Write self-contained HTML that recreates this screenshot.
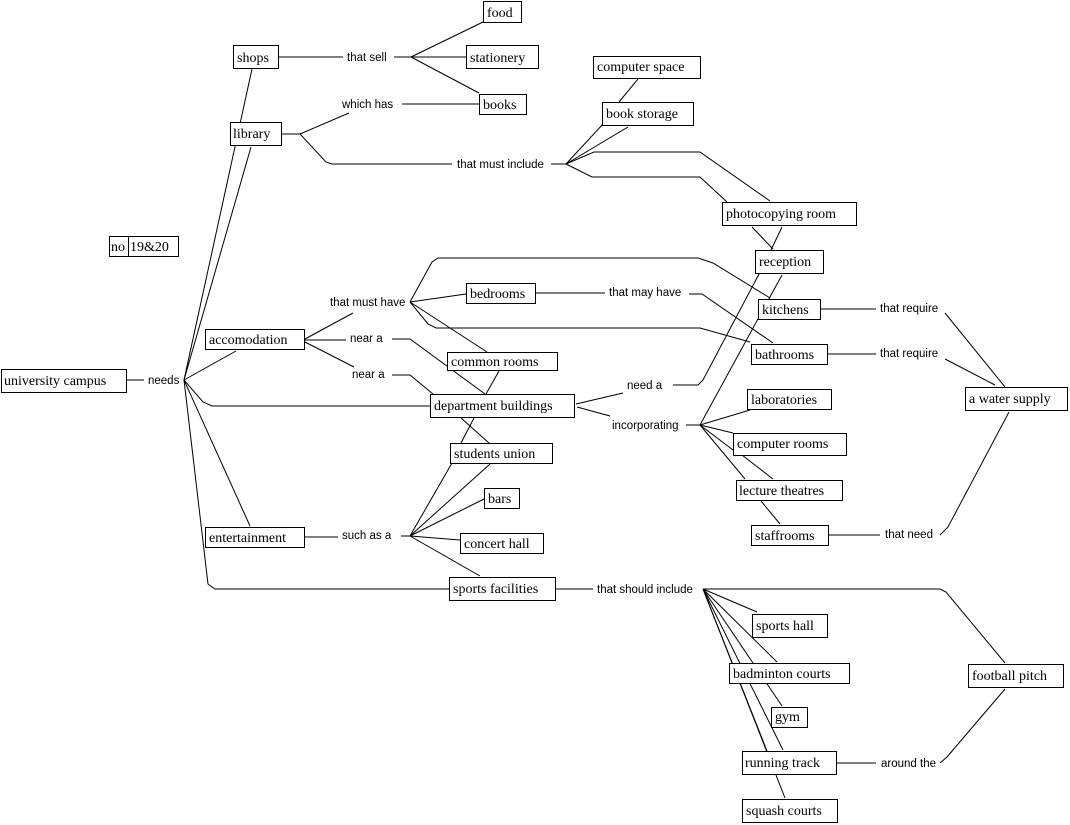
<!DOCTYPE html>
<html><head><meta charset="utf-8"><style>
html,body{margin:0;padding:0;background:#fff;}
svg{display:block;}
.b{fill:#fff;stroke:#000;stroke-width:1;}
.t{font-family:"Liberation Serif",serif;font-size:14px;fill:#000;}
.l{font-family:"Liberation Sans",sans-serif;font-size:11.5px;fill:#000;}
path,line,polyline{fill:none;stroke:#000;stroke-width:1;}
</style></head><body>
<svg width="1070" height="825" viewBox="0 0 1070 825">
<!-- connectors -->
<g>
<line x1="127" y1="380" x2="144" y2="380"/>
<line x1="184" y1="380" x2="252" y2="69"/>
<line x1="184" y1="380" x2="251" y2="147"/>
<line x1="184" y1="380" x2="236" y2="351"/>
<polyline points="184,380 203,402 212,406 430,406"/>
<line x1="184" y1="380" x2="250" y2="526"/>
<polyline points="184,380 208,584 215,589 449,589"/>
<line x1="279" y1="57" x2="343" y2="57"/>
<line x1="394" y1="57" x2="411" y2="57"/>
<line x1="411" y1="57" x2="483" y2="22"/>
<line x1="411" y1="57" x2="466" y2="57"/>
<line x1="411" y1="57" x2="479" y2="93"/>
<line x1="282" y1="134" x2="300" y2="134"/>
<line x1="300" y1="134" x2="349" y2="113"/>
<line x1="402" y1="104" x2="479" y2="104"/>
<polyline points="300,134 326,162 332,164 452,164"/>
<line x1="551" y1="164" x2="566" y2="164"/>
<line x1="566" y1="164" x2="603" y2="124"/>
<line x1="566" y1="164" x2="628" y2="127"/>
<polyline points="566,164 594,152 700,152 770,201"/>
<polyline points="566,164 592,177 700,177 727,202"/>
<line x1="638" y1="79" x2="619" y2="102"/>
<line x1="752" y1="227" x2="773" y2="249"/>
<line x1="782" y1="227" x2="771" y2="250"/>
<polyline points="759,274 703,380 698,385 673,385"/>
<line x1="782" y1="275" x2="700" y2="425"/>
<polyline points="410,302 432,262 438,258 698,258 713,263 770,298"/>
<line x1="410" y1="302" x2="466" y2="294"/>
<line x1="536" y1="293" x2="605" y2="293"/>
<polyline points="689,294 702,294 773,343"/>
<polyline points="410,302 428,324 436,328 700,328 750,342"/>
<line x1="410" y1="302" x2="487" y2="352"/>
<line x1="305" y1="339" x2="353" y2="313"/>
<line x1="305" y1="340" x2="346" y2="340"/>
<line x1="305" y1="342" x2="354" y2="367"/>
<polyline points="392,339 410,339 485,394"/>
<polyline points="392,375 410,375 433,394"/>
<line x1="499" y1="371" x2="486" y2="394"/>
<line x1="474" y1="418" x2="461" y2="443"/>
<line x1="461" y1="418" x2="489" y2="443"/>
<line x1="305" y1="537" x2="338" y2="537"/>
<line x1="401" y1="536" x2="410" y2="536"/>
<line x1="410" y1="536" x2="452" y2="463"/>
<line x1="410" y1="536" x2="490" y2="464"/>
<line x1="410" y1="536" x2="484" y2="499"/>
<line x1="410" y1="536" x2="460" y2="540"/>
<line x1="410" y1="536" x2="480" y2="576"/>
<line x1="576" y1="404" x2="623" y2="393"/>
<line x1="577" y1="407" x2="610" y2="416"/>
<line x1="686" y1="425" x2="700" y2="425"/>
<line x1="700" y1="425" x2="750" y2="410"/>
<line x1="700" y1="425" x2="733" y2="433"/>
<line x1="700" y1="425" x2="733" y2="450"/>
<line x1="700" y1="425" x2="745" y2="479"/>
<line x1="742" y1="455" x2="773" y2="479"/>
<line x1="761" y1="501" x2="780" y2="524"/>
<line x1="829" y1="535" x2="880" y2="535"/>
<polyline points="940,535 948,527 1009,412"/>
<line x1="821" y1="309" x2="876" y2="309"/>
<line x1="945" y1="313" x2="1005" y2="387"/>
<line x1="828" y1="354" x2="876" y2="354"/>
<line x1="945" y1="359" x2="995" y2="385"/>
<line x1="556" y1="589" x2="593" y2="589"/>
<polyline points="703,589 940,589 946,592 1005,663"/>
<line x1="703" y1="589" x2="757" y2="612"/>
<line x1="703" y1="589" x2="777" y2="662"/>
<line x1="703" y1="589" x2="782" y2="706"/>
<line x1="703" y1="589" x2="783" y2="750"/>
<line x1="703" y1="589" x2="767" y2="751"/>
<line x1="703" y1="589" x2="785" y2="798"/>
<line x1="837" y1="763" x2="876" y2="763"/>
<polyline points="940,763 947,757 1005,689"/>
</g>
<!-- boxes -->
<g>
<rect class="b" x="483.5" y="1.5" width="38" height="21"/><text class="t" x="487" y="17">food</text>
<rect class="b" x="233.5" y="45.5" width="45" height="23"/><text class="t" x="237" y="62">shops</text>
<rect class="b" x="466.5" y="45.5" width="72" height="23"/><text class="t" x="470" y="62">stationery</text>
<rect class="b" x="479.5" y="94.5" width="47" height="20"/><text class="t" x="483" y="109">books</text>
<rect class="b" x="230.5" y="122.5" width="51" height="23"/><text class="t" x="233" y="138">library</text>
<rect class="b" x="593.5" y="56.5" width="107" height="22"/><text class="t" x="597" y="71">computer space</text>
<rect class="b" x="602.5" y="102.5" width="91" height="23"/><text class="t" x="606" y="118">book storage</text>
<rect class="b" x="722.5" y="202.5" width="134" height="23"/><text class="t" x="726" y="218">photocopying room</text>
<rect class="b" x="755.5" y="250.5" width="68" height="23"/><text class="t" x="759" y="266">reception</text>
<rect class="b" x="758.5" y="299.5" width="62" height="20"/><text class="t" x="762" y="314">kitchens</text>
<rect class="b" x="751.5" y="344.5" width="76" height="20"/><text class="t" x="755" y="359">bathrooms</text>
<rect class="b" x="965.5" y="387.5" width="102" height="23"/><text class="t" x="969" y="403">a water supply</text>
<rect class="b" x="747.5" y="389.5" width="84" height="20"/><text class="t" x="751" y="404">laboratories</text>
<rect class="b" x="733.5" y="433.5" width="113" height="22"/><text class="t" x="737" y="448">computer rooms</text>
<rect class="b" x="736.5" y="480.5" width="106" height="20"/><text class="t" x="739" y="495">lecture theatres</text>
<rect class="b" x="751.5" y="525.5" width="77" height="20"/><text class="t" x="755" y="540">staffrooms</text>
<rect class="b" x="109.5" y="236.5" width="69" height="20"/><line x1="128.5" y1="236.5" x2="128.5" y2="256.5"/><text class="t" x="111" y="251">no</text><text class="t" x="130" y="251">19&amp;20</text>
<rect class="b" x="1.5" y="369.5" width="125" height="23"/><text class="t" x="4" y="385">university campus</text>
<rect class="b" x="205.5" y="329.5" width="99" height="20"/><text class="t" x="209" y="344">accomodation</text>
<rect class="b" x="466.5" y="283.5" width="69" height="20"/><text class="t" x="470" y="298">bedrooms</text>
<rect class="b" x="447.5" y="352.5" width="110" height="18"/><text class="t" x="451" y="366">common rooms</text>
<rect class="b" x="430.5" y="394.5" width="144" height="23"/><text class="t" x="434" y="410">department buildings</text>
<rect class="b" x="450.5" y="443.5" width="102" height="20"/><text class="t" x="454" y="458">students union</text>
<rect class="b" x="484.5" y="488.5" width="35" height="20"/><text class="t" x="488" y="503">bars</text>
<rect class="b" x="460.5" y="533.5" width="83" height="20"/><text class="t" x="464" y="548">concert hall</text>
<rect class="b" x="205.5" y="527.5" width="99" height="20"/><text class="t" x="209" y="542">entertainment</text>
<rect class="b" x="449.5" y="577.5" width="106" height="23"/><text class="t" x="453" y="593">sports facilities</text>
<rect class="b" x="752.5" y="614.5" width="75" height="23"/><text class="t" x="756" y="630">sports hall</text>
<rect class="b" x="729.5" y="663.5" width="120" height="20"/><text class="t" x="733" y="678">badminton courts</text>
<rect class="b" x="771.5" y="707.5" width="36" height="20"/><text class="t" x="775" y="721">gym</text>
<rect class="b" x="742.5" y="751.5" width="94" height="23"/><text class="t" x="745" y="767">running track</text>
<rect class="b" x="742.5" y="799.5" width="95" height="23"/><text class="t" x="746" y="815">squash courts</text>
<rect class="b" x="968.5" y="664.5" width="95" height="23"/><text class="t" x="972" y="680">football pitch</text>
</g>
<!-- link labels -->
<g>
<text class="l" x="148" y="384">needs</text>
<text class="l" x="347" y="61">that sell</text>
<text class="l" x="342" y="108">which has</text>
<text class="l" x="457" y="168">that must include</text>
<text class="l" x="330" y="306">that must have</text>
<text class="l" x="350" y="342">near a</text>
<text class="l" x="352" y="378">near a</text>
<text class="l" x="609" y="296">that may have</text>
<text class="l" x="627" y="389">need a</text>
<text class="l" x="612" y="429">incorporating</text>
<text class="l" x="880" y="312">that require</text>
<text class="l" x="880" y="357">that require</text>
<text class="l" x="885" y="538">that need</text>
<text class="l" x="342" y="539">such as a</text>
<text class="l" x="597" y="593">that should include</text>
<text class="l" x="881" y="767">around the</text>
</g>
</svg>
</body></html>
